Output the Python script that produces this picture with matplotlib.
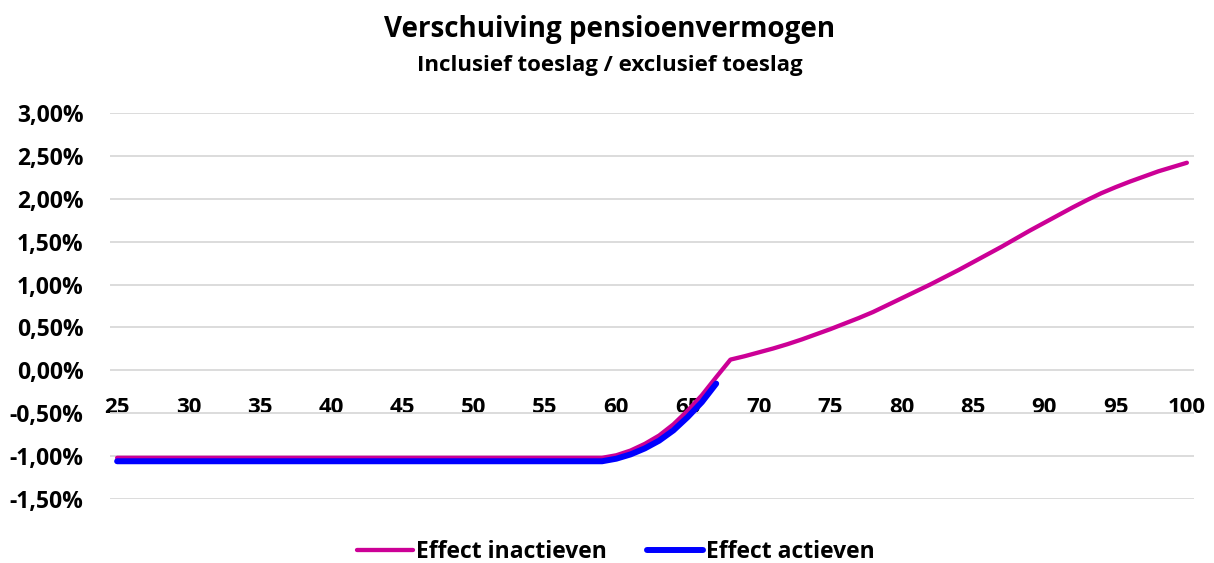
import matplotlib
matplotlib.use("Agg")
import matplotlib.pyplot as plt
from matplotlib.ticker import FuncFormatter, FixedLocator

ages = list(range(25, 101))

# Effect inactieven (in %), ages 25..100
inactive = ([-1.02] * 35 +                      # 25..59
            [-0.99, -0.935, -0.857, -0.76, -0.63, -0.47, -0.29, -0.08,  # 60..67
             0.125, 0.165, 0.21, 0.255, 0.305, 0.36, 0.42, 0.48,        # 68..75
             0.545, 0.61, 0.68, 0.76, 0.84, 0.92, 1.00, 1.085,          # 76..83
             1.17, 1.26, 1.35, 1.44, 1.535, 1.63, 1.72, 1.81,           # 84..91
             1.90, 1.985, 2.065, 2.135, 2.20, 2.26, 2.32, 2.37, 2.42])  # 92..100

# Effect actieven (in %), ages 25..67
active = ([-1.06] * 35 +                        # 25..59
          [-1.03, -0.98, -0.91, -0.82, -0.70, -0.545, -0.37, -0.155])  # 60..67

ytick_values = [-1.5, -1.0, -0.5, 0.0, 0.5, 1.0, 1.5, 2.0, 2.5, 3.0]
xtick_values = [25, 30, 35, 40, 45, 50, 55, 60, 65, 70, 75, 80, 85, 90, 95, 100]

title = "Verschuiving pensioenvermogen"
subtitle = "Inclusief toeslag / exclusief toeslag"
labels = ["Effect inactieven", "Effect actieven"]

plt.rcParams['font.family'] = ['Open Sans', 'DejaVu Sans']

fig = plt.figure(figsize=(12.14, 5.63), dpi=100)
ax = fig.add_axes([110/1214, 64/563, (1194-110)/1214, (499-113)/563])

ax.plot(ages, inactive, color='#CC0096', lw=3.1, solid_capstyle='round',
        solid_joinstyle='round', label=labels[0], zorder=2)
ax.plot(ages[:len(active)], active, color='#0000FF', lw=4.3, solid_capstyle='round',
        solid_joinstyle='round', label=labels[1], zorder=3)

ax.set_xlim(24.5, 100.5)
ax.set_ylim(-1.5, 3.0)
ax.yaxis.set_major_locator(FixedLocator(ytick_values))
ax.xaxis.set_major_locator(FixedLocator(xtick_values))
ax.yaxis.set_major_formatter(FuncFormatter(lambda v, p: f"{v:.2f}%".replace('.', ',')))
ax.grid(axis='y', color='#D9D9D9', lw=1.3, zorder=0)
ax.set_axisbelow(True)

for s in ['left', 'right', 'top']:
    ax.spines[s].set_visible(False)
ax.spines['bottom'].set_position(('data', 0))
ax.spines['bottom'].set_visible(False)

ax.tick_params(axis='y', length=0, pad=19, labelsize=16.5)
ax.tick_params(axis='x', length=0, pad=19, labelsize=16)
for lab in ax.get_xticklabels() + ax.get_yticklabels():
    lab.set_fontweight('bold')

fig.text(0.5025, 1 - 30/563, title, ha='center', va='center', fontsize=20, fontweight='bold')
fig.text(0.5025, 1 - 66/563, subtitle, ha='center', va='center', fontsize=16, fontweight='bold')

leg = fig.legend(loc='center', bbox_to_anchor=(0.507, 1 - 552/563), ncol=2, frameon=False,
                 prop={'size': 16.5, 'weight': 'bold'}, handlelength=2.45, handletextpad=0.12,
                 columnspacing=1.75)

fig.savefig("out.png", dpi=100)
